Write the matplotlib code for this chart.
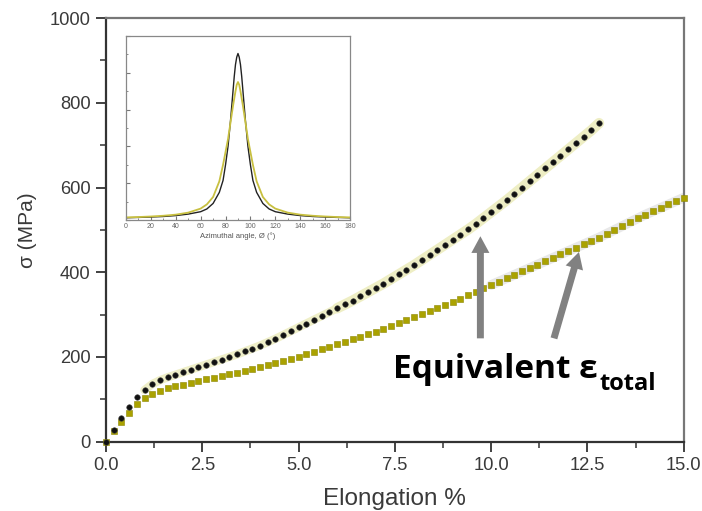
import numpy as np
import matplotlib.pyplot as plt
from matplotlib.ticker import MultipleLocator

plt.rcParams['font.family'] = ['Liberation Sans', 'DejaVu Sans']

# stress-strain data, one point every 0.2 % elongation
step = 0.2
sigma_black = [0, 28, 55, 82, 106, 122, 136, 145, 152, 158,
               164, 170, 176, 182, 188, 194, 200, 206, 213, 220,
               227, 235, 243, 252, 261, 270, 279, 288, 297, 306,
               315, 324, 333, 343, 353, 363, 373, 384, 395, 406,
               417, 429, 441, 453, 465, 477, 489, 501, 514, 528,
               542, 556, 570, 585, 600, 615, 630, 645, 660, 675,
               690, 705, 720, 735, 752]
sigma_yellow = [0, 25, 47, 68, 88, 102, 113, 120, 126, 131,
                135, 139, 143, 147, 151, 155, 159, 163, 167, 171,
                176, 181, 186, 191, 196, 201, 206, 212, 218, 224,
                230, 236, 242, 248, 254, 260, 266, 273, 280, 287,
                294, 301, 308, 315, 322, 330, 338, 346, 354, 362,
                370, 378, 386, 394, 402, 410, 418, 426, 434, 442,
                450, 458, 466, 474, 482, 491, 500, 509, 518, 527,
                536, 544, 552, 560, 568, 576]

# azimuthal intensity profiles for the inset (normalised)
angle = [0, 10, 20, 30, 40, 50, 60, 65, 70, 75, 78, 80, 82, 84, 86, 87, 88, 89,
         90, 91, 92, 93, 94, 96, 98, 100, 102, 105, 110, 115, 120, 130, 140, 150,
         160, 170, 180]
inten_black = [0.012, 0.014, 0.016, 0.019, 0.024, 0.032, 0.045, 0.060, 0.090,
               0.150, 0.215, 0.300, 0.400, 0.540, 0.700, 0.780, 0.845, 0.885,
               0.905, 0.885, 0.845, 0.780, 0.700, 0.540, 0.400, 0.300, 0.215,
               0.150, 0.090, 0.060, 0.045, 0.032, 0.024, 0.019, 0.016, 0.014,
               0.012]
inten_yellow = [0.014, 0.016, 0.019, 0.023, 0.029, 0.040, 0.062, 0.085, 0.125,
                0.210, 0.300, 0.370, 0.440, 0.530, 0.620, 0.660, 0.700, 0.735,
                0.750, 0.735, 0.700, 0.660, 0.620, 0.530, 0.440, 0.370, 0.300,
                0.210, 0.125, 0.085, 0.062, 0.040, 0.029, 0.023, 0.019, 0.016,
                0.014]

x_black = np.arange(len(sigma_black)) * step
x_yellow = np.arange(len(sigma_yellow)) * step
y_black = np.array(sigma_black)
y_yellow = np.array(sigma_yellow)

olive = '#aaa200'
txt = '#3a3a3a'

fig = plt.figure(figsize=(7.02, 5.11), dpi=100)
ax = fig.add_axes([0.151, 0.1356, 0.823, 0.829])

# scatter bands behind the markers
ax.plot(x_black[5:], y_black[5:], color='#efefc8', lw=6, solid_capstyle='round', zorder=1)
ax.plot(x_black[30:], y_black[30:], color='#eeeec4', lw=7.5, solid_capstyle='round', zorder=1)
ax.plot(x_yellow[50:], y_yellow[50:], color='#e8e8e8', lw=7, solid_capstyle='round', zorder=1)

ax.plot(x_yellow, y_yellow, ls='none', marker='s', ms=3.7, mfc=olive, mec='#8c8600',
        mew=0.4, zorder=3, clip_on=False)
ax.plot(x_black, y_black, ls='none', marker='o', ms=4.0, mfc='#111111', mec='#444444',
        mew=0.4, zorder=4, clip_on=False)

ax.set_xlim(0, 15)
ax.set_ylim(0, 1000)
ax.xaxis.set_major_locator(MultipleLocator(2.5))
ax.xaxis.set_minor_locator(MultipleLocator(1.25))
ax.yaxis.set_major_locator(MultipleLocator(200))
ax.yaxis.set_minor_locator(MultipleLocator(100))
ax.xaxis.set_major_formatter(plt.FormatStrFormatter('%.1f'))
ax.tick_params(which='major', direction='out', length=7, width=1.3, color='#333333',
               labelsize=13.2, labelcolor=txt, pad=4)
ax.tick_params(which='minor', direction='out', length=4, width=1.1, color='#333333')
for side in ['left', 'bottom']:
    ax.spines[side].set_linewidth(1.6)
    ax.spines[side].set_color('#333333')
for side in ['top', 'right']:
    ax.spines[side].set_linewidth(1.6)
    ax.spines[side].set_color('#777777')

ax.set_xlabel('Elongation %', fontsize=17.5, color=txt, labelpad=10)
ax.set_ylabel('σ (MPa)', fontsize=15, color=txt, labelpad=9)

# arrows pointing at the two curves
arrow_kw = dict(facecolor='#818181', edgecolor='none', width=5, headwidth=13,
                headlength=12, shrink=0)
ax.annotate('', xy=(9.72, 485), xytext=(9.72, 244), arrowprops=arrow_kw, zorder=5)
ax.annotate('', xy=(12.28, 448), xytext=(11.63, 244), arrowprops=arrow_kw, zorder=5)

ax.text(7.44, 150, 'Equivalent ε', fontsize=24, fontweight='bold',
        family=['Open Sans', 'DejaVu Sans'], color='black', va='baseline', zorder=6)
ax.text(12.80, 122, 'total', fontsize=17, fontweight='bold',
        family=['Open Sans', 'DejaVu Sans'], color='black', va='baseline', zorder=6)

# inset: azimuthal intensity distribution
axi = fig.add_axes([0.1795, 0.5695, 0.319, 0.360])
axi.plot(angle, inten_black, color='#222222', lw=1.0)
axi.plot(angle, inten_yellow, color='#c8c040', lw=1.3)
axi.set_xlim(0, 180)
axi.set_ylim(0, 1)
axi.xaxis.set_major_locator(MultipleLocator(20))
axi.xaxis.set_minor_locator(MultipleLocator(10))
axi.yaxis.set_major_locator(MultipleLocator(0.2))
axi.yaxis.set_minor_locator(MultipleLocator(0.1))
axi.tick_params(which='both', direction='in', labelsize=5, labelcolor='#666666',
                color='#777777', pad=2)
axi.tick_params(which='major', length=3)
axi.tick_params(which='minor', length=1.5)
axi.tick_params(axis='y', labelleft=False)
for s in axi.spines.values():
    s.set_color('#888888')
    s.set_linewidth(0.9)
axi.set_xlabel('Azimuthal angle, Ø (°)', fontsize=5.5, color='#555555', labelpad=2)

fig.savefig('out.png', dpi=100)
